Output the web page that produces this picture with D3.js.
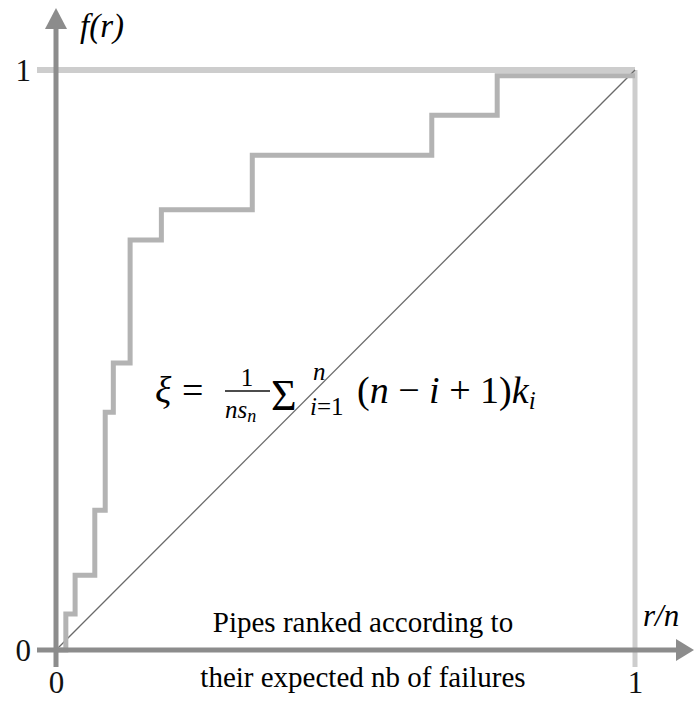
<!DOCTYPE html>
<html>
<head>
<meta charset="utf-8">
<script src="https://cdn.jsdelivr.net/npm/d3@7"></script>
</head>
<body style="margin:0">
<div id="chart"></div>
<script>
// step curve: share of pipes r/n vs cumulative share of failures f(r)
var stepX = [0, 0.017, 0.033, 0.067, 0.085, 0.099, 0.128, 0.182, 0.339, 0.649, 0.762, 1];
var stepY = [0, 0.062, 0.129, 0.241, 0.410, 0.495, 0.707, 0.759, 0.853, 0.922, 0.990, 0.990];
var tickVals = [0, 1];
var axisLabelY = "f(r)";
var axisLabelX = "r/n";
var noteLines = ["Pipes ranked according to", "their expected nb of failures"];

var W = 695, H = 702;
var serif = "'Liberation Serif', serif";

var svg = d3.select("#chart")
  .append("svg")
    .attr("width", W)
    .attr("height", H)
    .style("font-family", serif);

function txt(parent, size, italic) {
  var t = parent.append("text")
    .style("font-family", serif)
    .style("font-size", size + "px");
  if (italic) t.style("font-style", "italic");
  return t;
}

var x = d3.scaleLinear().domain([0, 1]).range([56, 635]);
var y = d3.scaleLinear().domain([0, 1]).range([650, 70]);

// frame lines at f=1 and r/n=1
svg.append("line")
  .attr("x1", x(0) - 19).attr("x2", x(1))
  .attr("y1", y(1)).attr("y2", y(1))
  .attr("stroke", "#cdcdcd").attr("stroke-width", 6);
svg.append("line")
  .attr("x1", x(1)).attr("x2", x(1))
  .attr("y1", y(1)).attr("y2", y(0) + 17)
  .attr("stroke", "#cdcdcd").attr("stroke-width", 5);

// diagonal
svg.append("line")
  .attr("x1", x(0)).attr("y1", y(0))
  .attr("x2", x(1)).attr("y2", y(1))
  .attr("stroke", "#6a6a6a").attr("stroke-width", 1.3);

// step curve
var pts = stepX.map(function(d, i) { return [d, stepY[i]]; });
var line = d3.line()
  .x(function(d) { return x(d[0]); })
  .y(function(d) { return y(d[1]); })
  .curve(d3.curveStepAfter);
svg.append("path")
  .datum(pts)
  .attr("d", line)
  .attr("fill", "none")
  .attr("stroke", "#b3b3b3")
  .attr("stroke-width", 5);

// axes with arrows
var axisCol = "#8c8c8c";
svg.append("line")
  .attr("x1", x(0)).attr("x2", x(0))
  .attr("y1", y(0) + 17).attr("y2", 26)
  .attr("stroke", axisCol).attr("stroke-width", 5);
svg.append("path")
  .attr("d", "M" + (x(0) - 11) + ",29L" + x(0) + ",8L" + (x(0) + 11) + ",29Z")
  .attr("fill", axisCol);
svg.append("line")
  .attr("x1", x(0) - 19).attr("x2", 678)
  .attr("y1", y(0)).attr("y2", y(0))
  .attr("stroke", axisCol).attr("stroke-width", 5);
svg.append("path")
  .attr("d", "M676," + (y(0) - 11) + "L694," + y(0) + "L676," + (y(0) + 11) + "Z")
  .attr("fill", axisCol);

// tick labels
var xAxis = svg.append("g")
  .attr("transform", "translate(0," + (y(0) + 17) + ")")
  .call(d3.axisBottom(x).tickValues(tickVals).tickSize(0).tickPadding(4).tickFormat(d3.format("d")));
var yAxis = svg.append("g")
  .attr("transform", "translate(" + (x(0) - 21) + ",0)")
  .call(d3.axisLeft(y).tickValues(tickVals).tickSize(0).tickPadding(4).tickFormat(d3.format("d")));
[xAxis, yAxis].forEach(function(g) {
  g.select(".domain").remove();
  g.attr("font-family", null).attr("font-size", null);
  g.selectAll("text")
    .style("font-family", serif)
    .style("font-size", "31px")
    .attr("fill", "#111");
});
xAxis.selectAll("text").attr("dy", "0.71em");
yAxis.selectAll("text").attr("dy", "0.33em");

// axis titles
txt(svg, 33, true).attr("x", 80).attr("y", 37).text(axisLabelY);
txt(svg, 31, true).attr("x", 643).attr("y", 626).text(axisLabelX);

// note under the curve
noteLines.forEach(function(t, i) {
  txt(svg, 29, false)
    .attr("x", 363).attr("y", 632 + i * 55)
    .attr("text-anchor", "middle")
    .text(t);
});

// formula
var fm = svg.append("g");
txt(fm, 38, true).attr("x", 155).attr("y", 403).text("ξ");
txt(fm, 38, false).attr("x", 182).attr("y", 403).text("=");
txt(fm, 25, false).attr("x", 247).attr("y", 386).attr("text-anchor", "middle").text("1");
fm.append("line").attr("x1", 225).attr("x2", 270).attr("y1", 391).attr("y2", 391)
  .attr("stroke", "#111").attr("stroke-width", 1.3);
var den = txt(fm, 25, true).attr("x", 225).attr("y", 418);
den.append("tspan").text("ns");
den.append("tspan").attr("dy", 4).style("font-size", "18px").text("n");
txt(fm, 44, false).attr("x", 271).attr("y", 410).text("Σ");
txt(fm, 25, true).attr("x", 313).attr("y", 380).text("n");
var sub = txt(fm, 25, false).attr("x", 310).attr("y", 415);
sub.append("tspan").style("font-style", "italic").text("i");
sub.append("tspan").text("=1");
var rest = txt(fm, 38, false).attr("x", 357).attr("y", 403);
rest.append("tspan").text("(");
rest.append("tspan").style("font-style", "italic").text("n");
rest.append("tspan").text(" − ");
rest.append("tspan").style("font-style", "italic").text("i");
rest.append("tspan").text(" + 1)");
rest.append("tspan").style("font-style", "italic").text("k");
rest.append("tspan").attr("dy", 6).style("font-size", "25px").style("font-style", "italic").text("i");
</script>
</body>
</html>
